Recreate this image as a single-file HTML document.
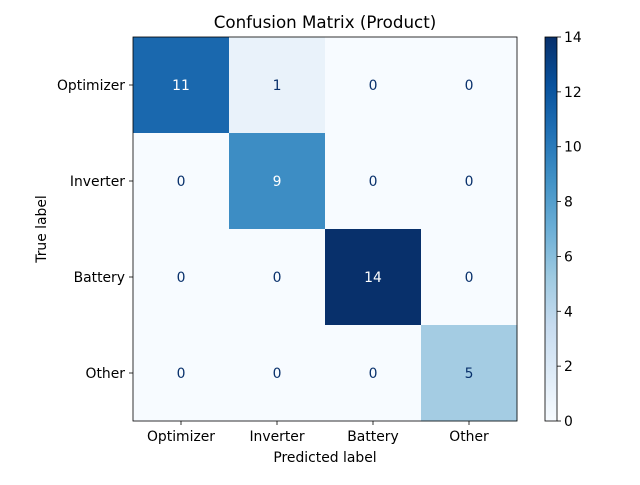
<!DOCTYPE html>
<html><head><meta charset="utf-8"><style>
body{margin:0;background:#fff}
svg text{font-family:"DejaVu Sans","Liberation Sans",sans-serif}
</style></head><body>
<svg id="c" width="640" height="480" xmlns="http://www.w3.org/2000/svg">
<defs><linearGradient id="g" x1="0" y1="1" x2="0" y2="0">
<stop offset="0" stop-color="#f7fbff"/><stop offset="0.125" stop-color="#deebf7"/><stop offset="0.25" stop-color="#c6dbef"/><stop offset="0.375" stop-color="#9ecae1"/><stop offset="0.5" stop-color="#6baed6"/><stop offset="0.625" stop-color="#4292c6"/><stop offset="0.75" stop-color="#2171b5"/><stop offset="0.875" stop-color="#08519c"/><stop offset="1" stop-color="#08306b"/></linearGradient></defs>
<text x="325" y="28" text-anchor="middle" font-size="16.7">Confusion Matrix (Product)</text>
<text x="325" y="462" text-anchor="middle" font-size="13.9">Predicted label</text>
<text transform="translate(46,229) rotate(-90)" text-anchor="middle" font-size="13.9">True label</text>
<rect x="545" y="37" width="12" height="384" fill="url(#g)" stroke="#000" stroke-width="0.8"/>
<g id="m"></g>
</svg>
<script>
const labels=["Optimizer","Inverter","Battery","Other"];
const matrix=[[11,1,0,0],[0,9,0,0],[0,0,14,0],[0,0,0,5]];
const cbTicks=[0,2,4,6,8,10,12,14];
const vmin=0,vmax=14;
const stops=["#f7fbff","#deebf7","#c6dbef","#9ecae1","#6baed6","#4292c6","#2171b5","#08519c","#08306b"];
const X0=133,Y0=37,S=384,n=labels.length,cw=S/n,FS=13.9;
const NS="http://www.w3.org/2000/svg",g=document.getElementById('m');
function h2r(h){return [1,3,5].map(i=>parseInt(h.substr(i,2),16));}
function cmap(v){let t=(v-vmin)/(vmax-vmin)*(stops.length-1);let i=Math.min(Math.floor(t),stops.length-2);let f=t-i;let a=h2r(stops[i]),b=h2r(stops[i+1]);return 'rgb('+a.map((x,k)=>Math.round(x+(b[k]-x)*f)).join(',')+')';}
function mk(tag,attrs,txt){const e=document.createElementNS(NS,tag);for(const k in attrs)e.setAttribute(k,attrs[k]);if(txt!==undefined)e.textContent=txt;return e;}
const sx=j=>X0+j*cw, sy=i=>Y0+i*cw;
matrix.forEach((row,i)=>row.forEach((v,j)=>{
 const r=mk('rect',{x:sx(j),y:sy(i),width:cw+0.5,height:cw+0.5,fill:cmap(v)});
 
 
 g.appendChild(r);
 const t=mk('text',{x:sx(j)+cw/2,y:sy(i)+cw/2+5,'text-anchor':'middle','font-size':FS,fill:v>(vmax+vmin)/2?'#fff':'#08306b'},v);
 
 
 g.appendChild(t);
}));
g.appendChild(mk('rect',{x:X0,y:Y0,width:S,height:S,fill:'none',stroke:'#000','stroke-width':0.8}));
labels.forEach((l,k)=>{
 g.appendChild(mk('line',{x1:sx(k)+cw/2,x2:sx(k)+cw/2,y1:Y0+S,y2:Y0+S+4,stroke:'#000','stroke-width':0.8}));
 const tx=mk('text',{x:sx(k)+cw/2,y:Y0+S+20,'text-anchor':'middle','font-size':FS},l);
 
 
 g.appendChild(tx);
 g.appendChild(mk('line',{x1:X0-4,x2:X0,y1:sy(k)+cw/2,y2:sy(k)+cw/2,stroke:'#000','stroke-width':0.8}));
 const ty=mk('text',{x:X0-8,y:sy(k)+cw/2+5,'text-anchor':'end','font-size':FS},l);
 
 
 g.appendChild(ty);
});
cbTicks.forEach(v=>{
 const y=Y0+S-(v-vmin)/(vmax-vmin)*S;
 g.appendChild(mk('line',{x1:557,x2:561,y1:y,y2:y,stroke:'#000','stroke-width':0.8}));
 const t=mk('text',{x:564,y:y+5,'font-size':FS},v);
 
 
 g.appendChild(t);
});
</script>
</body></html>
